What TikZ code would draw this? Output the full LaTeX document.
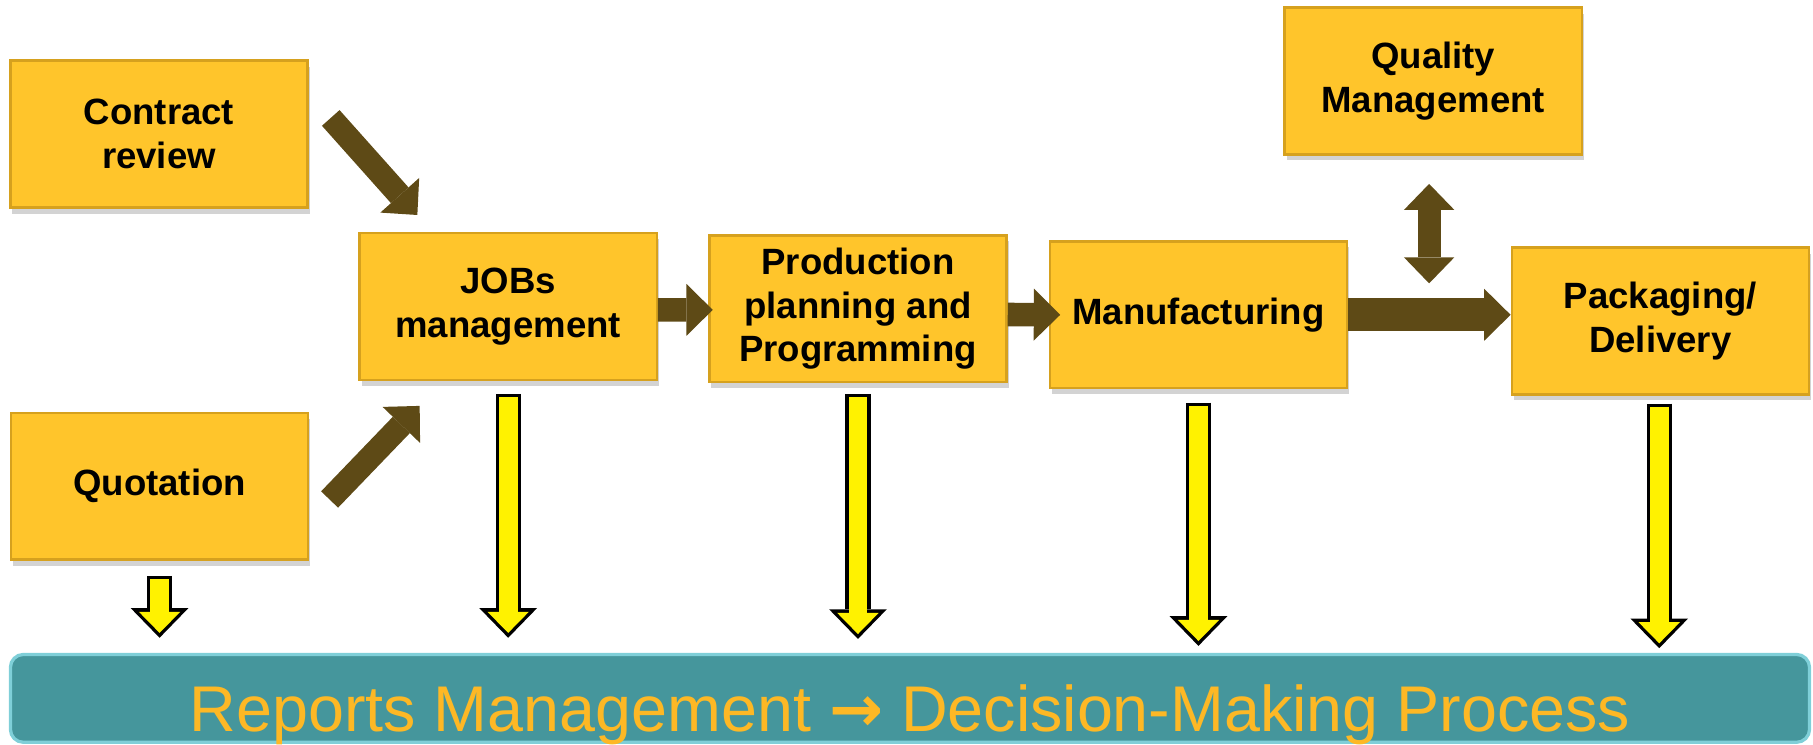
\documentclass[tikz,border=0pt]{standalone}
\usepackage{fontspec}
\setmainfont{Liberation Sans}
\newfontfamily\arrowfont{DejaVu Sans}
\usetikzlibrary{arrows.meta,calc,shadows}
\definecolor{boxgold}{HTML}{FFC52B}
\definecolor{boxedge}{HTML}{D6A11E}
\definecolor{olivebrown}{HTML}{5E4A16}
\definecolor{barteal}{HTML}{45969C}
\definecolor{baredge}{HTML}{7FCFD8}
\definecolor{bartext}{HTML}{FDB825}
\begin{document}
\begin{tikzpicture}[
    procbox/.style={draw=boxedge, line width=0.6pt, fill=boxgold,
      minimum width=2.57cm, minimum height=1.27cm, inner sep=0pt, align=center,
      font=\bfseries\fontsize{9}{10.8}\selectfont,
      drop shadow={shadow xshift=0.5pt, shadow yshift=-1.5pt, opacity=0.35}},
    reportbar/.style={draw=baredge, line width=0.8pt, fill=barteal, rounded corners=3.2pt,
      minimum width=15.56cm, inner sep=0pt, text height=0.67cm, text depth=0.09cm,
      text=bartext, font=\fontsize{15.9}{18}\selectfont},
    brownflow/.style={draw=olivebrown, line width=5.8pt,
      -{Triangle[width=12.8pt, length=6.5pt, line width=0pt]}},
    brownboth/.style={draw=olivebrown, line width=5.7pt,
      {Triangle[width=12.4pt, length=6.4pt, line width=0pt]}-{Triangle[width=12.4pt, length=6.4pt, line width=0pt]}},
    yellowdown/.style={draw=yellow, line width=4.6pt, shorten <=0.8pt, shorten >=1.2pt,
      -{Triangle[width=10.2pt, length=5.2pt, line width=0pt]},
      preaction={draw=black, line width=6.2pt, shorten <=0pt, shorten >=0pt,
        -{Triangle[width=14.2pt, length=7.3pt, line width=0pt]}}}
  ]
    \useasboundingbox (0,0) rectangle (15.68,6.435);

    \node[procbox] (contract) at (1.375,5.275) {Contract\\review};
    \node[procbox] (quotation) at (1.38,2.23) {Quotation};
    \node[procbox] (jobs) at (4.395,3.785) {JOBs\\management};
    \node[procbox] (production) at (7.42,3.765) {Production\\planning and\\Programming};
    \node[procbox] (manufacturing) at (10.365,3.7125) {Manufacturing};
    \node[procbox] (packaging) at (14.36,3.66) {Packaging/\\Delivery};
    \node[procbox] (quality) at (12.395,5.735) {Quality\\Management};
    \node[reportbar] (reports) at (7.87,0.395) {Reports Management {\arrowfont\bfseries →} Decision-Making Process};

    \draw[brownflow] ($(contract.east)+(0.19,0.14)$) -- ($(jobs.north west)+(0.51,0.145)$);
    \draw[brownflow] ($(quotation.east)+(0.175,-0.115)$) -- ($(jobs.south west)+(0.53,-0.215)$);
    \draw[brownflow] ($(jobs.east)+(0,-0.03)$) -- ($(production.west)+(0.04,-0.01)$);
    \draw[brownflow] ($(production.east)+(0,-0.05)$) -- ($(manufacturing.west)+(0.1,0)$);
    \draw[brownflow, line width=8.2pt] (manufacturing.east) -- (manufacturing.east -| packaging.west);
    \draw[brownboth] ($(quality.south)+(-0.035,-0.245)$) -- ($(quality.south)+(-0.035,-1.105)$);

    \draw[yellowdown] ($(quotation.south)+(0,-0.13)$) -- ($(quotation.south |- reports.north)+(0,0.13)$);
    \draw[yellowdown] ($(jobs.south)+(0,-0.11)$) -- ($(jobs.south |- reports.north)+(0,0.13)$);
    \draw[yellowdown] ($(production.south)+(0,-0.09)$) -- ($(production.south |- reports.north)+(0,0.12)$);
    \draw[yellowdown] ($(manufacturing.south)+(0,-0.115)$) -- ($(manufacturing.south |- reports.north)+(0,0.06)$);
    \draw[yellowdown] ($(packaging.south)+(-0.01,-0.07)$) -- ($(packaging.south |- reports.north)+(-0.01,0.04)$);
\end{tikzpicture}
\end{document}
